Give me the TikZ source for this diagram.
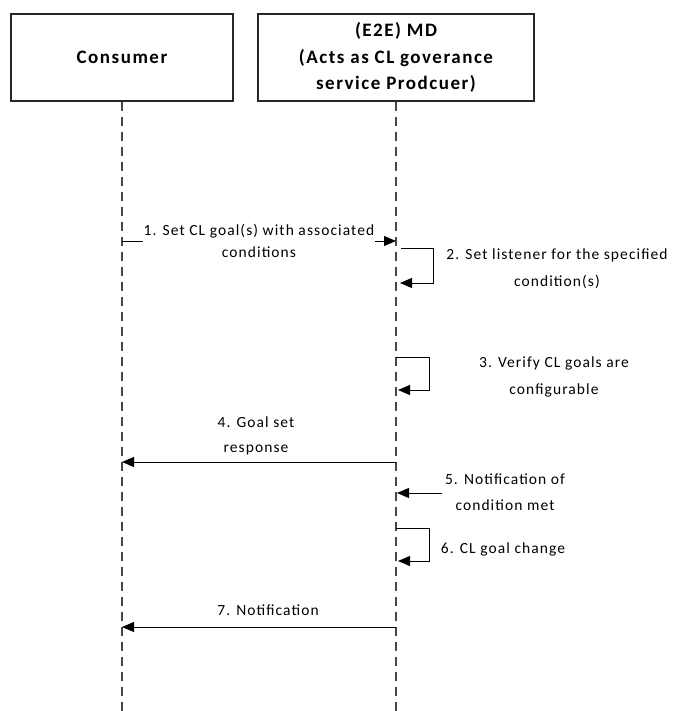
\documentclass[tikz,border=0pt]{standalone}
\usepackage{fontspec}
\setmainfont{Carlito}
\newfontfamily\lblfont[LetterSpace=7]{Carlito}
\newfontfamily\ttlfont[LetterSpace=8]{Carlito}
\usetikzlibrary{arrows.meta}
\tikzset{
  actor/.style={draw=black!85, line width=1.1pt, fill=white, align=center,
    font=\ttlfont\bfseries\fontsize{19}{26.5}\selectfont, inner sep=0pt},
  lifeline/.style={draw=black!72, line width=1.3pt, dash pattern=on 9pt off 6pt},
  msg/.style={draw=black, line width=0.9pt, -{Triangle[length=12pt,width=10pt]}},
  lbl/.style={align=center, font=\lblfont\fontsize{15.5}{27}\selectfont, inner sep=1pt}
}
\begin{document}
\begin{tikzpicture}[x=1pt,y=-1pt]
\useasboundingbox (0,0) rectangle (673,711);

% participants
\node[actor, minimum width=222pt, minimum height=87pt] (cons) at (122,57.5) {Consumer};
\node[actor, minimum width=276pt, minimum height=87pt] (md) at (396,57.5)
  {(E2E) MD\\(Acts as CL goverance\\service Prodcuer)};

% lifelines
\coordinate (consEnd) at (122,711);
\coordinate (mdEnd) at (396,711);
\draw[lifeline] (cons.south) -- (consEnd);
\draw[lifeline] (md.south) -- (mdEnd);

% anchor points on the lifelines
\coordinate (c1) at (122,241);
\coordinate (m1) at (396,241);
\coordinate (m2a) at (401,248);
\coordinate (m2b) at (400,283);
\coordinate (m3a) at (396,357);
\coordinate (m3b) at (398,390);
\coordinate (m4) at (396,462);
\coordinate (c4) at (122,462);
\coordinate (src5) at (442,493);
\coordinate (m5) at (397,493);
\coordinate (m6a) at (396,528);
\coordinate (m6b) at (398,561);
\coordinate (m7) at (396,627);
\coordinate (c7) at (122,627);

% 1
\draw[msg] (c1) -- (m1);
\node[lbl, fill=white] (l1) at (259,241) {1. Set CL goal(s) with associated\\[-5pt]conditions};
% 2
\draw[msg] (m2a) -- ++(32,0) |- (m2b);
\node[lbl] (l2) at (557,269) {2. Set listener for the specified\\condition(s)};
% 3
\draw[msg] (m3a) -- ++(33,0) |- (m3b);
\node[lbl] (l3) at (554,377) {3. Verify CL goals are\\configurable};
% 4
\draw[msg] (m4) -- (c4);
\node[lbl] (l4) at (256,436) {4. Goal set\\[-2pt]response};
% 5
\draw[msg] (src5) -- (m5);
\node[lbl] (l5) at (505,492) {5. Notification of\\[-1pt]condition met};
% 6
\draw[msg] (m6a) -- ++(33,0) |- (m6b);
\node[lbl] (l6) at (503,549) {6. CL goal change};
% 7
\draw[msg] (m7) -- (c7);
\node[lbl] (l7) at (268,610) {7. Notification};
\end{tikzpicture}
\end{document}
